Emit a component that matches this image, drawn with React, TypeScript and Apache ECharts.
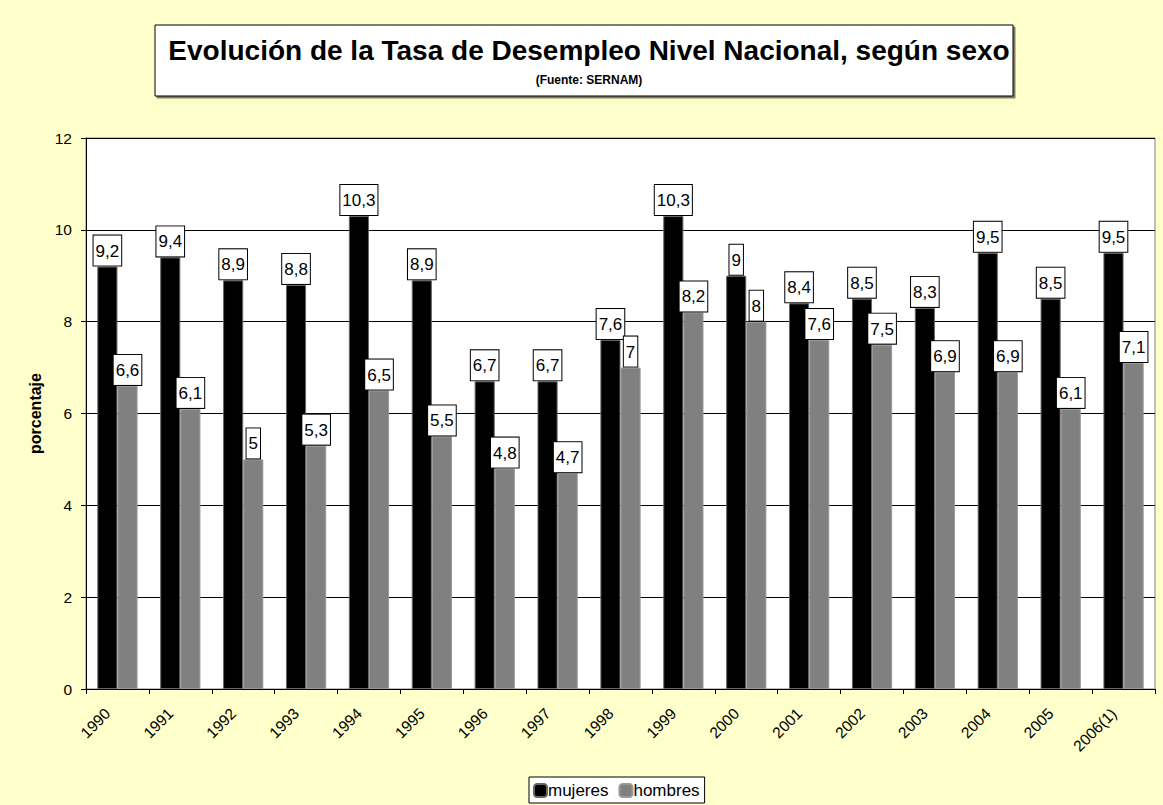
import React, { useEffect, useRef } from "react";
import * as echarts from "echarts";

const categories = ["1990", "1991", "1992", "1993", "1994", "1995", "1996", "1997", "1998", "1999", "2000", "2001", "2002", "2003", "2004", "2005", "2006(1)"];
const mujeres = [9.2, 9.4, 8.9, 8.8, 10.3, 8.9, 6.7, 6.7, 7.6, 10.3, 9, 8.4, 8.5, 8.3, 9.5, 8.5, 9.5];
const hombres = [6.6, 6.1, 5, 5.3, 6.5, 5.5, 4.8, 4.7, 7, 8.2, 8, 7.6, 7.5, 6.9, 6.9, 6.1, 7.1];
const yTicks = { min: 0, max: 12, interval: 2 };

const FONT = "Liberation Sans, Arial, sans-serif";

export default function App() {
  const ref = useRef<HTMLDivElement>(null);
  useEffect(() => {
    document.body.style.margin = "0";
    const chart = echarts.init(ref.current!, undefined, { renderer: "svg" });
    const label = {
      show: true,
      position: "top",
      distance: 1,
      color: "#000",
      fontSize: 17,
      lineHeight: 19,
      fontFamily: FONT,
      backgroundColor: "#fff",
      borderColor: "#000",
      borderWidth: 1,
      padding: [6, 2, 5, 2],
      formatter: (p: any) => String(p.value).replace(".", ","),
    };
    chart.setOption({
      animation: false,
      backgroundColor: "#FFFFCC",
      textStyle: { fontFamily: FONT },
      title: {
        text: "Evolución de la Tasa de Desempleo Nivel Nacional, según sexo",
        subtext: "(Fuente: SERNAM)",
        left: 584,
        top: 31,
        textAlign: "center",
        itemGap: 10,
        textStyle: { fontSize: 28, fontWeight: "bold", color: "#000", fontFamily: FONT },
        subtextStyle: { fontSize: 12, fontWeight: "bold", color: "#000", fontFamily: FONT },
      },
      graphic: [
        {
          type: "rect",
          z: -1,
          shape: { x: 155, y: 25, width: 858, height: 71 },
          style: { fill: "#fff", stroke: "#000", lineWidth: 1, shadowColor: "rgba(0,0,0,0.5)", shadowOffsetX: 2, shadowOffsetY: 2, shadowBlur: 0 },
        },
      ],
      legend: {
        left: 529,
        top: 777,
        itemWidth: 13,
        itemHeight: 13,
        itemGap: 10,
        padding: [5, 5, 4, 4],
        backgroundColor: "#fff",
        borderColor: "#000",
        borderWidth: 1,
        textStyle: { fontSize: 17, color: "#000", fontFamily: FONT, padding: [0, 0, 0, -4] },
        data: ["mujeres", "hombres"],
      },
      grid: {
        left: 86,
        right: 8,
        top: 138,
        bottom: 116,
        show: true,
        backgroundColor: "#fff",
        borderColor: "#808080",
        borderWidth: 1,
      },
      xAxis: {
        type: "category",
        data: categories,
        axisLine: { lineStyle: { color: "#000", width: 1 } },
        axisTick: { show: true, length: 5, lineStyle: { color: "#000" } },
        axisLabel: { rotate: 45, fontSize: 15.5, color: "#000", margin: 12, padding: [0, 14, 0, 0], fontFamily: FONT },
      },
      yAxis: {
        type: "value",
        min: yTicks.min,
        max: yTicks.max,
        interval: yTicks.interval,
        name: "porcentaje",
        nameLocation: "middle",
        nameGap: 42,
        nameRotate: 90,
        nameTextStyle: { fontSize: 16, fontWeight: "bold", color: "#000", fontFamily: FONT },
        axisLine: { show: true, lineStyle: { color: "#000", width: 1 } },
        axisTick: { show: true, length: 5, lineStyle: { color: "#000" } },
        axisLabel: { fontSize: 15.5, color: "#000", margin: 14, fontFamily: FONT },
        splitLine: { show: true, lineStyle: { color: "#000", width: 1 } },
      },
      series: [
        {
          name: "mujeres",
          type: "bar",
          data: mujeres,
          barGap: "0%",
          barCategoryGap: "36%",
          itemStyle: { color: "#000", borderColor: "#666", borderWidth: 1 },
          label,
        },
        {
          name: "hombres",
          type: "bar",
          data: hombres,
          itemStyle: { color: "#808080", borderColor: "#999", borderWidth: 1 },
          label,
        },
      ],
    });
    return () => chart.dispose();
  }, []);
  return <div ref={ref} style={{ width: 1163, height: 805 }} />;
}
